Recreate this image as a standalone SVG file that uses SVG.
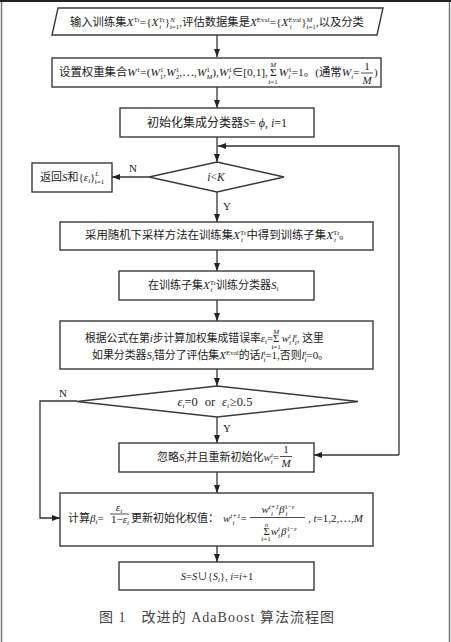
<svg xmlns="http://www.w3.org/2000/svg" width="451" height="642" viewBox="0 0 451 642">
<defs>
<style>
.box{fill:#fff;stroke:#3a3a3a;stroke-width:1.4}
.ln{fill:none;stroke:#333;stroke-width:1.3}
.t{font-family:"Liberation Serif","Noto Sans CJK SC",serif;font-size:11px;fill:#222}
.it{font-style:italic}
.sp{font-size:7px}
.lb{font-family:"Liberation Serif",serif;font-size:11px;fill:#222}
</style>
<marker id="ah" markerWidth="8" markerHeight="6" refX="8" refY="3" orient="auto" markerUnits="userSpaceOnUse">
<path d="M0,0 L8,3 L0,6 z" fill="#222"/>
</marker>
</defs>
<rect width="451" height="642" fill="#fff"/>
<g id="frame">
<line x1="1.5" y1="1" x2="1.5" y2="642" stroke="#777" stroke-width="1.5"/>
<line x1="449.5" y1="1" x2="449.5" y2="642" stroke="#777" stroke-width="1.5"/>
<line x1="0" y1="1" x2="451" y2="1" stroke="#222" stroke-width="2"/>
</g>

<g id="connectors">
<line class="ln" x1="217" y1="35" x2="217" y2="57" marker-end="url(#ah)"/>
<line class="ln" x1="217" y1="87" x2="217" y2="108" marker-end="url(#ah)"/>
<line class="ln" x1="217" y1="137" x2="217" y2="162" marker-end="url(#ah)"/>
<line class="ln" x1="149" y1="177" x2="112" y2="177" marker-end="url(#ah)"/>
<line class="ln" x1="217" y1="192" x2="217" y2="222" marker-end="url(#ah)"/>
<line class="ln" x1="217" y1="250" x2="217" y2="271" marker-end="url(#ah)"/>
<line class="ln" x1="217" y1="300" x2="217" y2="321" marker-end="url(#ah)"/>
<line class="ln" x1="217" y1="369" x2="217" y2="386" marker-end="url(#ah)"/>
<line class="ln" x1="217" y1="417" x2="217" y2="443" marker-end="url(#ah)"/>
<line class="ln" x1="217" y1="472" x2="217" y2="493" marker-end="url(#ah)"/>
<line class="ln" x1="217" y1="546" x2="217" y2="562" marker-end="url(#ah)"/>
<path class="ln" d="M399,455 L399,146 L218,146" marker-end="url(#ah)"/>
<line class="ln" x1="399" y1="455" x2="314" y2="455" marker-end="url(#ah)"/>
<path class="ln" d="M77,401 L40,401 L40,518 L60,518" marker-end="url(#ah)"/>
<text class="lb" x="129" y="172">N</text>
<text class="lb" x="223" y="210">Y</text>
<text class="lb" x="59" y="397">N</text>
<text class="lb" x="223" y="432">Y</text>
</g>

<g id="input">
<polygon class="box" points="58,8 383,8 377,35 52,35"/>
<text class="t" x="70" y="26" style="font-size:11.3px">输入训练集<tspan class="it">X</tspan><tspan class="sp" dy="-4">Tr</tspan><tspan dy="4">={</tspan><tspan class="it">X</tspan><tspan class="sp" dy="-4">Tr</tspan><tspan class="sp it" dx="-5.5" dy="7">i</tspan><tspan dx="3.5" dy="-3">}</tspan><tspan class="sp it" dy="-4">N</tspan><tspan class="sp" dx="-5" dy="7">i=1</tspan><tspan dy="-3">,评估数据集是</tspan><tspan class="it">X</tspan><tspan class="sp" dy="-4">Eval</tspan><tspan dy="4">={</tspan><tspan class="it">X</tspan><tspan class="sp" dy="-4">Eval</tspan><tspan class="sp it" dx="-11.5" dy="7">i</tspan><tspan dx="9.5" dy="-3">}</tspan><tspan class="sp it" dy="-4">M</tspan><tspan class="sp" dx="-6" dy="7">i=1</tspan><tspan dy="-3">,以及分类</tspan></text>
</g>

<g id="weights">
<rect class="box" x="52" y="58" width="329" height="29"/>
<text class="t" x="59" y="76" style="font-size:11.4px">设置权重集合<tspan class="it">W</tspan><tspan class="sp" dy="-4">1</tspan><tspan dy="4">=(</tspan><tspan class="it">W</tspan><tspan class="sp" dy="-4">1</tspan><tspan class="sp" dx="-3.5" dy="7">1</tspan><tspan dy="-3">,</tspan><tspan class="it">W</tspan><tspan class="sp" dy="-4">1</tspan><tspan class="sp" dx="-3.5" dy="7">2</tspan><tspan dy="-3">,⋯,</tspan><tspan class="it">W</tspan><tspan class="sp" dy="-4">1</tspan><tspan class="sp it" dx="-3.5" dy="7">M</tspan><tspan dy="-3">),</tspan><tspan class="it">W</tspan><tspan class="sp" dy="-4">1</tspan><tspan class="sp it" dx="-3.5" dy="7">i</tspan><tspan dx="1.5" dy="-3">∈[0,1],</tspan><tspan dx="2">Σ</tspan><tspan class="sp it" dx="-6.4" dy="-9">M</tspan><tspan class="sp" dx="-7.8" dy="17">i=1</tspan><tspan class="it" dx="1" dy="-8">W</tspan><tspan class="sp" dy="-4">1</tspan><tspan class="sp it" dx="-3.5" dy="7">i</tspan><tspan dx="1.5" dy="-3">=1。(通常</tspan><tspan class="it">W</tspan><tspan class="sp it" dy="3">i</tspan><tspan dy="-3">=</tspan></text>
<text class="t" x="367" y="70" text-anchor="middle">1</text>
<line x1="361" y1="73" x2="373" y2="73" stroke="#222" stroke-width="0.8"/>
<text class="t it" x="367" y="84" text-anchor="middle">M</text>
<text class="t" x="374" y="76">)</text>
</g>

<g id="init">
<rect class="box" x="120" y="108" width="194" height="29"/>
<text class="t" x="217" y="127" text-anchor="middle" style="font-size:12px">初始化集成分类器<tspan class="it">S</tspan>= <tspan class="it">ϕ</tspan>, <tspan class="it">i</tspan>=1</text>
</g>

<g id="cond1">
<polygon class="box" points="217,162 284,177 217,192 149,177"/>
<text class="t" x="216" y="181" text-anchor="middle" style="font-size:11.5px"><tspan class="it">i</tspan>&lt;<tspan class="it">K</tspan></text>
</g>

<g id="return">
<rect class="box" x="32" y="163" width="80" height="29"/>
<text class="t" x="40" y="181">返回<tspan class="it">S</tspan>和{<tspan class="it">ε</tspan><tspan class="sp it" dy="2">i</tspan><tspan dy="-2">}</tspan><tspan class="sp it" dy="-5">L</tspan><tspan class="sp" dx="-4.5" dy="8">i=1</tspan></text>
</g>

<g id="sample">
<rect class="box" x="60" y="222" width="313" height="28"/>
<text class="t" x="85" y="239" style="font-size:11.4px">采用随机下采样方法在训练集<tspan class="it">X</tspan><tspan class="sp" dy="-4">Tr</tspan><tspan class="sp it" dx="-5.5" dy="7">t</tspan><tspan dx="3.5" dy="-3">中得到训练子集</tspan><tspan class="it">X</tspan><tspan class="sp" dy="-4">Tr</tspan><tspan class="sp it" dx="-5.5" dy="7">t</tspan><tspan dx="3" dy="-3">。</tspan></text>
</g>

<g id="train">
<rect class="box" x="119" y="271" width="195" height="29"/>
<text class="t" x="148" y="289">在训练子集<tspan class="it">X</tspan><tspan class="sp" dy="-4">Tr</tspan><tspan class="sp it" dx="-5.5" dy="7">t</tspan><tspan dx="3.5" dy="-3">训练分类器</tspan><tspan class="it">S</tspan><tspan class="sp it" dy="2">i</tspan></text>
</g>

<g id="error">
<rect class="box" x="60" y="321" width="313" height="48"/>
<text class="t" x="85" y="342" style="font-size:10.8px">根据公式在第<tspan class="it">i</tspan>步计算加权集成错误率<tspan class="it">ε</tspan><tspan class="sp it" dy="2">i</tspan><tspan dy="-2">=</tspan><tspan>Σ</tspan><tspan class="sp it" dx="-6.2" dy="-8.5">M</tspan><tspan class="sp" dx="-7.6" dy="15.5">i=1</tspan><tspan class="it" dx="1" dy="-7">w</tspan><tspan class="sp it" dy="-4">t</tspan><tspan class="sp it" dx="-2" dy="7">i</tspan><tspan class="it" dx="1" dy="-3">l</tspan><tspan class="sp it" dy="-4">t</tspan><tspan class="sp it" dx="-2" dy="7">i</tspan><tspan dy="-3">, 这里</tspan></text>
<text class="t" x="92" y="359" style="font-size:10.9px">如果分类器<tspan class="it">S</tspan><tspan class="sp it" dy="2">i</tspan><tspan dy="-2">错分了评估集</tspan><tspan class="it">X</tspan><tspan class="sp" dy="-4">Eval</tspan><tspan dy="4">的话</tspan><tspan class="it">l</tspan><tspan class="sp it" dy="-4">t</tspan><tspan class="sp it" dx="-2" dy="7">i</tspan><tspan dy="-3">=1,否则</tspan><tspan class="it">l</tspan><tspan class="sp it" dy="-4">t</tspan><tspan class="sp it" dx="-2" dy="7">i</tspan><tspan dy="-3">=0。</tspan></text>
</g>

<g id="cond2">
<polygon class="box" points="217,386 358,401.5 217,417 77,401.5"/>
<text class="t" x="215" y="406" text-anchor="middle" style="font-size:12.5px"><tspan class="it">ε</tspan><tspan class="sp it" dy="2">i</tspan><tspan dy="-2">=0</tspan><tspan dx="7">or</tspan><tspan class="it" dx="7">ε</tspan><tspan class="sp it" dy="2">i</tspan><tspan dx="1" dy="-2">≥0.5</tspan></text>
</g>

<g id="ignore">
<rect class="box" x="119" y="443" width="195" height="29"/>
<text class="t" x="279" y="461" text-anchor="end">忽略<tspan class="it">S</tspan><tspan class="sp it" dy="2">i</tspan><tspan dy="-2">并且重新初始化</tspan><tspan class="it">w</tspan><tspan class="sp it" dy="-4">t</tspan><tspan class="sp it" dx="-2" dy="7">i</tspan><tspan dy="-3">=</tspan></text>
<text class="t" x="286" y="453" text-anchor="middle">1</text>
<line x1="280" y1="456.5" x2="292" y2="456.5" stroke="#222" stroke-width="0.8"/>
<text class="t it" x="286" y="467" text-anchor="middle">M</text>
</g>

<g id="update">
<rect class="box" x="60" y="493" width="313" height="53"/>
<text class="t" x="68" y="522">计算<tspan class="it">β</tspan><tspan class="sp it" dy="2">i</tspan><tspan dy="-2">=</tspan></text>
<text class="t" x="119" y="511" text-anchor="middle"><tspan class="it">ε</tspan><tspan class="sp it" dy="2">i</tspan></text>
<line x1="110" y1="514" x2="129" y2="514" stroke="#222" stroke-width="0.8"/>
<text class="t" x="120" y="523" text-anchor="middle">1−<tspan class="it">ε</tspan><tspan class="sp it" dy="2">i</tspan></text>
<text class="t" x="131" y="522">更新初始化权值：</text>
<text class="t" x="223" y="522"><tspan class="it">w</tspan><tspan class="sp it" dy="-4">t+1</tspan><tspan class="sp it" dx="-8" dy="7">i</tspan><tspan dx="6" dy="-3">=</tspan></text>
<text class="t" x="278" y="513" text-anchor="middle"><tspan class="it">w</tspan><tspan class="sp it" dy="-4">t+1</tspan><tspan class="sp it" dx="-8" dy="7">i</tspan><tspan class="it" dx="6" dy="-3">β</tspan><tspan class="sp" dy="-4">1−<tspan class="it">ε</tspan></tspan><tspan class="sp it" dx="-9" dy="7">i</tspan></text>
<line x1="250" y1="517.5" x2="305" y2="517.5" stroke="#222" stroke-width="0.8"/>
<text class="t" x="279" y="534.5" text-anchor="middle"><tspan>Σ</tspan><tspan class="sp it" dx="-5" dy="-8">n</tspan><tspan class="sp" dx="-7" dy="14.5">i=1</tspan><tspan class="it" dx="0" dy="-6.5">w</tspan><tspan class="sp it" dy="-4">t</tspan><tspan class="sp it" dx="-2" dy="7">i</tspan><tspan class="it" dx="1" dy="-3">β</tspan><tspan class="sp" dy="-4">1−<tspan class="it">ε</tspan></tspan><tspan class="sp it" dx="-9" dy="7">i</tspan></text>
<text class="t" x="308" y="522">, <tspan class="it">t</tspan>=1,2,⋯,<tspan class="it">M</tspan></text>
</g>

<g id="append">
<rect class="box" x="119" y="562" width="195" height="28"/>
<text class="t" x="217" y="580" text-anchor="middle" style="font-size:10.5px"><tspan class="it">S</tspan>=<tspan class="it">S</tspan>∪{<tspan class="it">S</tspan><tspan class="sp it" dy="2">i</tspan><tspan dy="-2">}, </tspan><tspan class="it">i</tspan>=<tspan class="it">i</tspan>+1</text>
</g>

<g id="caption">
<text x="99" y="622" textLength="235" lengthAdjust="spacing" style="font-family:'Liberation Serif','Noto Sans CJK SC',serif;font-size:14px;fill:#444">图 1　改进的 AdaBoost 算法流程图</text>
</g>
</svg>
